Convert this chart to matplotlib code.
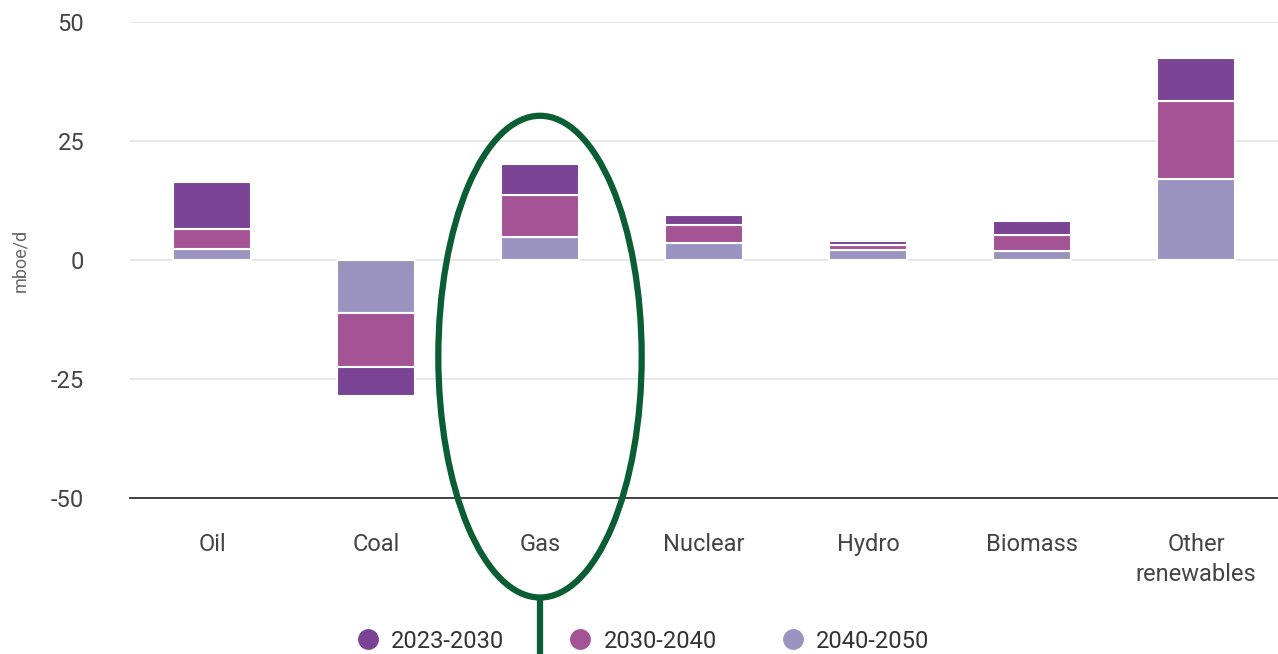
import numpy as np
import matplotlib.pyplot as plt
from matplotlib.patches import Ellipse
from matplotlib.lines import Line2D

plt.rcParams['font.family'] = ['Roboto', 'DejaVu Sans']
plt.rcParams['axes.unicode_minus'] = False

categories = ["Oil", "Coal", "Gas", "Nuclear", "Hydro", "Biomass", "Other\nrenewables"]
periods = ["2023-2030", "2030-2040", "2040-2050"]

# change per period, mboe/d
p2040_2050 = [2.3, -11.1, 4.8, 3.6, 2.1, 1.9, 17.0]
p2030_2040 = [4.2, -11.3, 8.8, 3.8, 1.0, 3.4, 16.4]
p2023_2030 = [9.9, -6.1, 6.5, 2.1, 0.8, 2.9, 9.0]

colors = {"2023-2030": "#7b4393", "2030-2040": "#a45394", "2040-2050": "#9b94c0"}

fig = plt.figure(figsize=(12.78, 6.54), dpi=100)
ax = fig.add_axes([130 / 1278, 1 - 498 / 654, 1 - 130 / 1278, (498 - 22) / 654])

x = np.arange(len(categories))
w = 0.48

# stack from zero outwards: 2040-2050 first, then 2030-2040, then 2023-2030
stack = [("2040-2050", p2040_2050), ("2030-2040", p2030_2040), ("2023-2030", p2023_2030)]
base = np.zeros(len(categories))
for name, vals in stack:
    vals = np.array(vals)
    ax.bar(x, vals, w, bottom=base, color=colors[name], edgecolor='white', linewidth=1.5, zorder=3)
    base = base + vals

ax.set_xlim(-0.5, len(categories) - 0.5)
ax.set_ylim(-50, 50)
ax.set_yticks([-50, -25, 0, 25, 50])
ax.grid(axis='y', color='#e3e3e3', linewidth=1.2, zorder=0)
for s in ['top', 'right', 'left']:
    ax.spines[s].set_visible(False)
ax.spines['bottom'].set_color('#333333')
ax.spines['bottom'].set_linewidth(1.3)
ax.tick_params(length=0, labelsize=17, colors='#444444')
ax.tick_params(axis='y', pad=33)
ax.tick_params(axis='x', pad=25)
ax.set_xticks(x)
ax.set_xticklabels(categories, linespacing=1.4, va='top')
ax.set_ylabel('mboe/d', fontsize=13, color='#666666')
ax.yaxis.set_label_coords(-0.088, 0.5)

# highlight around gas
ell = Ellipse((2, -20.3), 1.24, 101.2, fill=False, edgecolor='#0b5e33', linewidth=4.5, clip_on=False, zorder=5)
ax.add_patch(ell)
ax.plot([2, 2], [-70.8, -85], color='#0b5e33', linewidth=4.5, clip_on=False, zorder=5, solid_capstyle='butt')

handles = [Line2D([], [], marker='o', linestyle='', markersize=14, markerfacecolor=colors[p], markeredgecolor=colors[p]) for p in periods]
fig.legend(handles, periods, loc='center', bbox_to_anchor=(0.502, 1 - 641 / 654), ncol=3, frameon=False,
           fontsize=17, labelcolor='#333333', columnspacing=2.6, handletextpad=0.4, handlelength=1.2)

fig.savefig('out.png', dpi=100)
